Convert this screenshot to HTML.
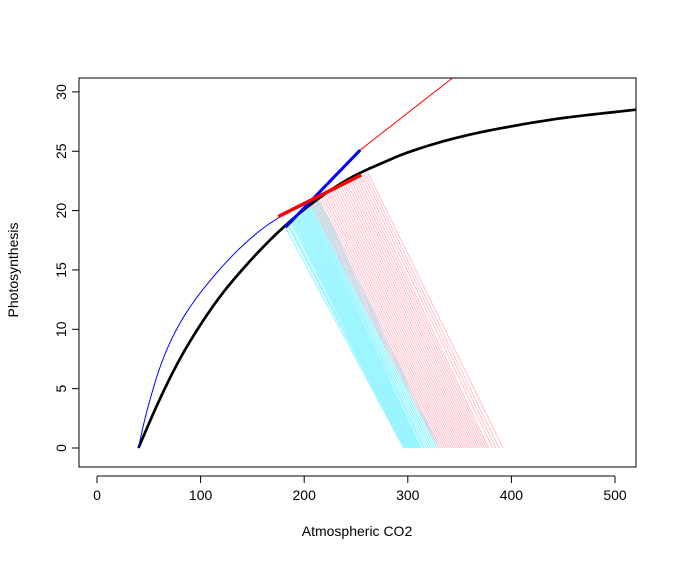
<!DOCTYPE html>
<html><head><meta charset="utf-8"><style>
body{margin:0;background:#fff;}
svg{display:block;font-family:"Liberation Sans",Arial,sans-serif;}
</style></head><body>
<svg id="chart" width="677" height="561" viewBox="0 0 677 561" xmlns="http://www.w3.org/2000/svg">
<defs><clipPath id="clip"><rect x="79" y="78" width="557" height="389"/></clipPath></defs>
<g id="marks" clip-path="url(#clip)"></g>
<rect x="79" y="78" width="557" height="389" fill="none" stroke="#000" stroke-width="1"/>
<g id="axes"></g>
<text x="357" y="536" font-size="14" text-anchor="middle">Atmospheric CO2</text>
<text x="18" y="270" font-size="14" text-anchor="middle" transform="rotate(-90 18 270)">Photosynthesis</text>
</svg>
<script>
const xTicks=[0,100,200,300,400,500];
const yTicks=[0,5,10,15,20,25,30];
const blackCO2=[40,60,80,100,120,140,160,180,200,225,250,275,300,350,400,450,520];
const blackA=[0,4.0,7.5,10.4,12.9,15.0,16.9,18.6,20.1,21.7,23.0,24.0,24.9,26.2,27.1,27.8,28.5];
const blueCO2=[40,45,50,60,70,80,90,100,120,140,160,177];
const blueA=[0,2.0,3.7,6.6,8.8,10.5,11.9,13.1,15.2,17.0,18.5,19.5];
const blueSeg=[[182,18.6],[254,25.1]];
const redSeg=[[175,19.5],[255,23.0]];
const redThin=[[254,25.1],[345,31.3]];
const cyanStart=[182,184,185,187,188,189,190,191,192,193,194,195,196,197,198,199,200,200,201,202,203,204,205,206,207,208,209,210,211,212];
const cyanEnd=[296,297,298,298,299,300,300,301,302,303,304,304,305,306,307,308,309,310,311,312,313,315,316,318,320,322,324,326,328,330];
const pinkStart=[205,207,209,211,213,215,217,219,221,223,225,227,229,231,233,235,237,239,241,243,245,247,249,251,253,255,257,259,261];
const pinkEnd=[330,332,334,336,338,340,342,344,346,348,350,352,354,356,358,360,362,364,366,368,370,372,374,376,378,382,385,388,392];

const X=v=>97+v*1.036;
const Y=v=>448-v*11.87;
const NS='http://www.w3.org/2000/svg';
const marks=document.getElementById('marks');
const axes=document.getElementById('axes');
function mk(tag,attrs,parent){const e=document.createElementNS(NS,tag);for(const k in attrs)e.setAttribute(k,attrs[k]);parent.appendChild(e);return e;}
const redA=x=>redSeg[0][1]+(x-redSeg[0][0])*(redSeg[1][1]-redSeg[0][1])/(redSeg[1][0]-redSeg[0][0]);
const blueA2=x=>blueSeg[0][1]+(x-blueSeg[0][0])*(blueSeg[1][1]-blueSeg[0][1])/(blueSeg[1][0]-blueSeg[0][0]);
cyanStart.forEach((s,i)=>{
 const l=mk('line',{x1:X(s),y1:Y(blueA2(s)),x2:X(cyanEnd[i]),y2:Y(0),stroke:'#98f5ff','stroke-width':1.2},marks);
 
 
});
pinkStart.forEach((s,i)=>{
 const l=mk('line',{x1:X(s),y1:Y(redA(s)),x2:X(pinkEnd[i]),y2:Y(0),stroke:'#ffc0cb','stroke-width':1},marks);
 
 
});
// monotone cubic (Fritsch-Carlson) sampled path
function curve(xs,ys){
 const n=xs.length,d=[],m=[];
 for(let i=0;i<n-1;i++)d.push((ys[i+1]-ys[i])/(xs[i+1]-xs[i]));
 m[0]=d[0];m[n-1]=d[n-2];
 for(let i=1;i<n-1;i++){m[i]=(d[i-1]*d[i]<=0)?0:2/(1/d[i-1]+1/d[i]);}
 let p='M'+X(xs[0])+','+Y(ys[0]);
 for(let i=0;i<n-1;i++){const h=xs[i+1]-xs[i];
  for(let k=1;k<=10;k++){const t=k/10,t2=t*t,t3=t2*t;
   const v=(2*t3-3*t2+1)*ys[i]+(t3-2*t2+t)*h*m[i]+(-2*t3+3*t2)*ys[i+1]+(t3-t2)*h*m[i+1];
   p+=' L'+X(xs[i]+t*h).toFixed(2)+','+Y(v).toFixed(2);}}
 return p;}
const bk=mk('path',{d:curve(blackCO2,blackA),fill:'none',stroke:'#000','stroke-width':2.7},marks);


const bl=mk('path',{d:curve(blueCO2,blueA),fill:'none',stroke:'#0000ff','stroke-width':1},marks);


const bs=mk('line',{x1:X(blueSeg[0][0]),y1:Y(blueSeg[0][1]),x2:X(blueSeg[1][0]),y2:Y(blueSeg[1][1]),stroke:'#0000ff','stroke-width':3},marks);


const rt=mk('line',{x1:X(redThin[0][0]),y1:Y(redThin[0][1]),x2:X(redThin[1][0]),y2:Y(redThin[1][1]),stroke:'#ff0000','stroke-width':1},marks);


const rs=mk('line',{x1:X(redSeg[0][0]),y1:Y(redSeg[0][1]),x2:X(redSeg[1][0]),y2:Y(redSeg[1][1]),stroke:'#ff0000','stroke-width':3.5},marks);


// axes
mk('line',{x1:X(0),y1:476,x2:X(500),y2:476,stroke:'#000'},axes);
xTicks.forEach(t=>{mk('line',{x1:X(t),y1:476,x2:X(t),y2:483,stroke:'#000'},axes);
 const tx=mk('text',{x:X(t),y:500,'font-size':14,'text-anchor':'middle',fill:'#000'},axes);tx.textContent=t;
 
 });
mk('line',{x1:79,y1:Y(0),x2:79,y2:Y(30),stroke:'#000'},axes);
yTicks.forEach(t=>{mk('line',{x1:72,y1:Y(t),x2:79,y2:Y(t),stroke:'#000'},axes);
 const tx=mk('text',{x:66,y:Y(t),'font-size':14,'text-anchor':'middle',fill:'#000',transform:'rotate(-90 66 '+Y(t)+')'},axes);tx.textContent=t;
 
 });
</script>
</body></html>
